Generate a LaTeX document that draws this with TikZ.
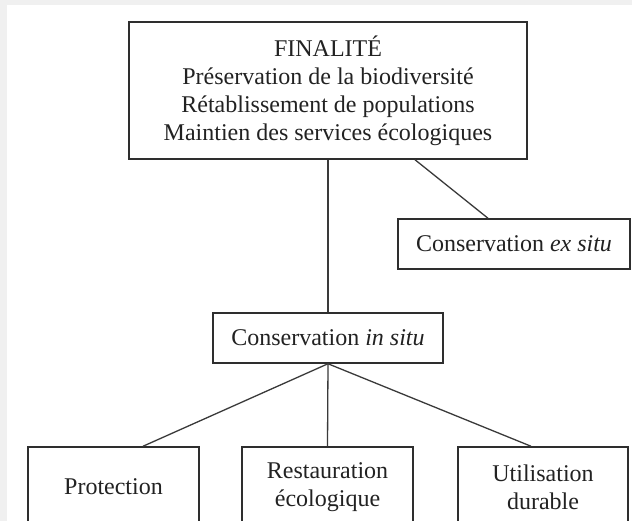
\documentclass[tikz,border=0pt]{standalone}
\usepackage{fontspec}
\setmainfont{Liberation Serif}
\definecolor{boxc}{HTML}{2E2E2E}
\definecolor{linec}{HTML}{3A3A3A}
\definecolor{textc}{HTML}{222222}
\definecolor{bgc}{HTML}{F0F0F0}
\begin{document}
\begin{tikzpicture}[x=1pt,y=-1pt,
  box/.style={draw=boxc, line width=1.5pt, fill=white, inner sep=0pt,
    align=center, font=\fontsize{24}{28}\selectfont, text=textc},
  conn/.style={draw=linec, line width=1.3pt}]
\useasboundingbox (0,0) rectangle (632,521);
\clip (0,0) rectangle (632,521);
\fill[white] (0,0) rectangle (632,521);
\fill[bgc] (0,0) rectangle (632,5);
\fill[bgc] (0,0) rectangle (7,521);

\node[box, minimum width=398pt, minimum height=137pt] (top) at (328,90.5)
  {FINALITÉ\\Préservation de la biodiversité\\Rétablissement de populations\\Maintien des services écologiques};
\node[box, minimum width=232pt, minimum height=50pt] (exsitu) at (514,244)
  {Conservation \textit{ex situ}};
\node[box, minimum width=230pt, minimum height=50pt] (insitu) at (328,338)
  {Conservation \textit{in situ}};
\node[box, minimum width=171pt, minimum height=80pt] (prot) at (113.5,487)
  {Protection};
\node[box, minimum width=171pt, minimum height=80pt] (rest) at (327.5,487)
  {Restauration\\écologique};
\node[box, minimum width=170pt, minimum height=80pt] (util) at (543,487)
  {Utilisation\\durable};

\draw[conn] (top.south) -- (insitu.north);
\draw[conn] ([xshift=87pt]top.south) -- ([xshift=-26pt]exsitu.north);
\draw[conn] (insitu.south) -- ([xshift=29.5pt]prot.north);
\draw[conn] (insitu.south) -- (rest.north);
\draw[conn] (insitu.south) -- ([xshift=-12pt]util.north);
\end{tikzpicture}
\end{document}
